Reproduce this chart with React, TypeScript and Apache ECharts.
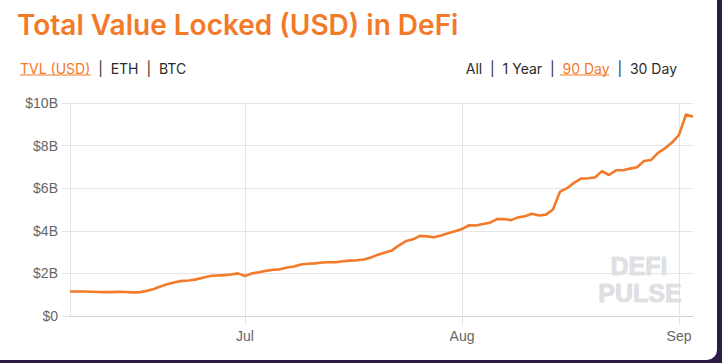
import React, { useEffect, useRef } from "react";
import * as echarts from "echarts";

const startDate = "2020-06-06";
const tvlBillions = [
  1.15, 1.15, 1.15, 1.14, 1.13, 1.12, 1.12, 1.14, 1.13, 1.11,
  1.12, 1.18, 1.27, 1.40, 1.50, 1.58, 1.65, 1.67, 1.72, 1.80,
  1.88, 1.90, 1.92, 1.95, 2.00, 1.88, 2.00, 2.05, 2.12, 2.17,
  2.19, 2.28, 2.32, 2.42, 2.45, 2.47, 2.51, 2.52, 2.52, 2.57,
  2.60, 2.62, 2.65, 2.75, 2.88, 2.98, 3.08, 3.32, 3.52, 3.60,
  3.76, 3.74, 3.70, 3.78, 3.88, 3.98, 4.08, 4.26, 4.25, 4.32,
  4.38, 4.55, 4.55, 4.50, 4.63, 4.68, 4.80, 4.72, 4.76, 5.00,
  5.84, 6.00, 6.25, 6.45, 6.47, 6.50, 6.80, 6.62, 6.84, 6.84,
  6.92, 6.98, 7.28, 7.32, 7.66, 7.87, 8.14, 8.50, 9.46, 9.35,
];
const monthLabels: Record<string, string> = {
  "2020-07-01": "Jul",
  "2020-08-01": "Aug",
  "2020-09-01": "Sep",
};
const yTickValues = [0, 2, 4, 6, 8, 10];
const leftTabs = "{on|TVL (USD)}  |  ETH  |  BTC";
const rightTabs = "All  |  1 Year  |  {on|90 Day}  |  30 Day";

function buildDates(start: string, n: number): string[] {
  const out: string[] = [];
  const t0 = Date.parse(start + "T00:00:00Z");
  for (let i = 0; i < n; i++) {
    out.push(new Date(t0 + i * 86400000).toISOString().slice(0, 10));
  }
  return out;
}

const ORANGE = "#f37a28";
const GRID = "#e4e4e4";

export default function App() {
  const ref = useRef<HTMLDivElement>(null);
  useEffect(() => {
    if (!ref.current) return;
    const chart = echarts.init(ref.current, undefined, { renderer: "svg" });
    const dates = buildDates(startDate, tvlBillions.length);
    const isMonth = (_i: number, v: string) => v in monthLabels;
    chart.setOption({
      animation: false,
      grid: { left: 70, right: 24, top: 103, bottom: 44 },
      xAxis: {
        type: "category",
        data: dates,
        boundaryGap: false,
        axisLine: { show: true, lineStyle: { color: "#d2d2d2", width: 1 } },
        axisTick: { show: true, interval: isMonth, length: 9, lineStyle: { color: GRID } },
        splitLine: { show: true, interval: isMonth, lineStyle: { color: GRID } },
        axisLabel: {
          interval: isMonth,
          formatter: (v: string) => monthLabels[v] || "",
          color: "#666",
          fontSize: 14,
          fontFamily: "Liberation Sans, Arial, sans-serif",
          margin: 13,
        },
      },
      yAxis: {
        type: "value",
        min: yTickValues[0],
        max: yTickValues[yTickValues.length - 1],
        interval: 2,
        axisLine: { show: true, lineStyle: { color: GRID } },
        axisTick: { show: true, length: 8, lineStyle: { color: GRID } },
        splitLine: { show: true, lineStyle: { color: GRID } },
        axisLabel: {
          formatter: (v: number) => (v === 0 ? "$0" : `$${v}B`),
          color: "#666",
          fontSize: 14,
          fontFamily: "Liberation Sans, Arial, sans-serif",
          margin: 12,
        },
      },
      series: [
        {
          type: "line",
          data: tvlBillions,
          showSymbol: false,
          lineStyle: { color: ORANGE, width: 2.6 },
          itemStyle: { color: ORANGE },
          z: 3,
        },
      ],
      graphic: [
        {
          type: "text",
          x: 17,
          y: 25,
          style: {
            text: "Total Value Locked (USD) in DeFi",
            fill: ORANGE,
            font: "600 28px Inter, sans-serif",
            verticalAlign: "middle",
            textAlign: "left",
          },
        },
        {
          type: "text",
          x: 20,
          y: 68,
          style: {
            text: leftTabs,
            fill: "#2b2b2b",
            fontFamily: "Inter, sans-serif",
            fontSize: 14,
            verticalAlign: "middle",
            rich: { on: { fill: ORANGE, fontFamily: "Inter, sans-serif", fontSize: 14 } },
          },
        },
        { type: "line", shape: { x1: 20, y1: 75, x2: 91, y2: 75 }, style: { stroke: ORANGE, lineWidth: 1 } },
        {
          type: "text",
          x: 677,
          y: 68,
          style: {
            text: rightTabs,
            fill: "#2b2b2b",
            fontFamily: "Inter, sans-serif",
            fontSize: 14,
            verticalAlign: "middle",
            textAlign: "right",
            rich: { on: { fill: ORANGE, fontFamily: "Inter, sans-serif", fontSize: 14 } },
          },
        },
        { type: "line", shape: { x1: 560, y1: 75, x2: 609, y2: 75 }, style: { stroke: ORANGE, lineWidth: 1 } },
        {
          type: "text",
          x: 639,
          y: 266,
          z: 1,
          style: {
            text: "DEFI",
            fill: "#e0e0e3",
            stroke: "#cdcdd2",
            lineWidth: 0.6,
            font: "bold 25px Liberation Sans, Arial, sans-serif",
            textAlign: "center",
            verticalAlign: "middle",
          },
        },
        {
          type: "text",
          x: 640,
          y: 293,
          z: 1,
          style: {
            text: "PULSE",
            fill: "#e0e0e3",
            stroke: "#cdcdd2",
            lineWidth: 0.6,
            font: "bold 25px Liberation Sans, Arial, sans-serif",
            textAlign: "center",
            verticalAlign: "middle",
          },
        },
      ],
    });
    return () => chart.dispose();
  }, []);
  return (
    <div style={{ position: "fixed", left: 0, top: 0, width: 722, height: 363, background: "#2b1c48" }}>
      <div style={{ position: "absolute", left: 0, top: 0, width: 717, height: 360, background: "#fff", borderBottomRightRadius: 10, overflow: "hidden" }}>
        <div ref={ref} style={{ width: 717, height: 360 }} />
      </div>
    </div>
  );
}
